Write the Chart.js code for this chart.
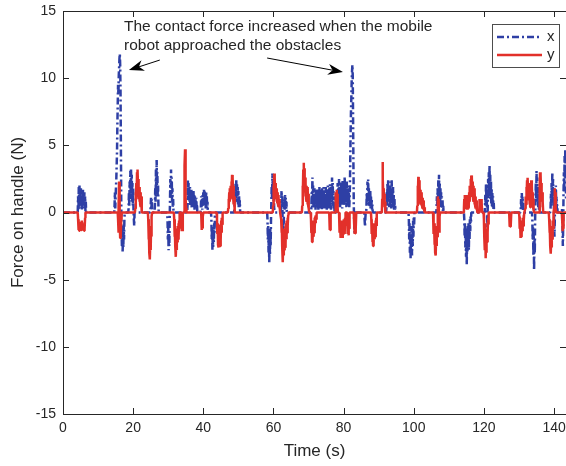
<!DOCTYPE html>
<html>
<head>
<meta charset="utf-8">
<script src="https://cdn.jsdelivr.net/npm/chart.js@4.4.1/dist/chart.umd.min.js"></script>
<style>
  html, body { margin: 0; padding: 0; background: #fff; }
  canvas { display: block; }
</style>
</head>
<body>
<canvas id="forceChart" width="566" height="466"></canvas>
<script>
// Handle force while the mobile robot is guided (x / y components)

const seriesNames = ['x', 'y'];
const xTicks = [0, 20, 40, 60, 80, 100, 120, 140];
const yTicks = [-15, -10, -5, 0, 5, 10, 15];

// [time (s), force (N)]
const forceX = [
  [0,0],[4.2,0],[4.3,1.2],[4.4,0.2],[4.5,1.9],[4.6,0.4],[4.7,2.0],[4.8,0.6],[4.9,1.7],[5.0,0.3],[5.1,1.8],[5.2,0.5],[5.3,1.6],[5.4,0.2],[5.5,1.5],[5.6,0.6],[5.7,1.7],[5.8,0.3],[5.9,1.4],[6.0,0.5],[6.1,1.5],[6.2,0.2],[6.3,1.2],[6.4,0.1],[6.5,0.8],[6.6,0],
  [14.6,0],[14.7,0.5],[14.8,1.5],[14.9,0.3],[15.0,1.2],[15.2,2.5],[15.4,4.5],[15.5,6.5],[15.6,8.0],[15.7,9.5],[15.8,8.8],[15.9,10.2],[16.0,10.8],[16.1,11.5],[16.2,11.8],[16.3,11.0],[16.4,9.0],[16.5,5.0],[16.6,1.0],[16.7,-1.5],[16.8,-2.5],[16.9,-1.2],[17.0,-2.9],[17.1,-1.8],[17.2,-2.6],[17.3,-1.0],[17.4,-2.0],[17.5,-0.5],[17.6,0],
  [18.6,0],[18.7,0.3],[18.8,1.5],[18.9,0.5],[19.0,2.3],[19.1,1.0],[19.2,3.1],[19.3,1.5],[19.4,3.2],[19.5,1.2],[19.6,2.8],[19.7,0.8],[19.8,2.2],[19.9,0.5],[20.0,1.8],[20.1,0.2],[20.2,-0.5],[20.3,-1.0],[20.4,0],
  [24.9,0],[25.0,0.5],[25.1,1.1],[25.2,0.3],[25.3,1.0],[25.4,0.2],[25.5,0],
  [26.1,0],[26.2,0.5],[26.3,1.8],[26.4,0.8],[26.5,3.2],[26.6,1.5],[26.7,3.9],[26.8,2.0],[26.9,3.0],[27.0,1.2],[27.1,2.0],[27.2,0.5],[27.3,0],
  [29.7,0],[29.8,-0.5],[29.9,-2.0],[30.0,-1.0],[30.1,-2.8],[30.2,-1.5],[30.3,-2.5],[30.4,-0.8],[30.5,0.8],[30.6,2.5],[30.7,1.2],[30.8,3.2],[30.9,1.5],[31.0,2.6],[31.1,0.8],[31.2,1.8],[31.3,0.4],[31.4,1.0],[31.5,0],
  [35.4,0],[35.5,0.5],[35.6,2.4],[35.7,1.0],[35.8,2.2],[35.9,0.6],[36.0,1.8],[36.1,0.8],[36.2,1.9],[36.3,0.5],[36.4,1.6],[36.5,0.9],[36.6,1.7],[36.7,0.3],[36.8,1.5],[36.9,0.6],[37.0,1.4],[37.1,0.4],[37.2,1.6],[37.3,0.7],[37.4,1.3],[37.5,0.2],[37.6,1.2],[37.7,0.5],[37.8,1.0],[37.9,0.3],[38.0,1.1],[38.1,0.2],[38.2,0.6],[38.3,0],
  [39.2,0],[39.3,0.3],[39.4,1.2],[39.5,0.4],[39.6,1.0],[39.7,0.2],[39.8,1.3],[39.9,0.5],[40.0,1.5],[40.1,0.6],[40.2,1.7],[40.3,0.8],[40.4,1.6],[40.5,0.5],[40.6,1.4],[40.7,0.3],[40.8,1.6],[40.9,0.6],[41.0,1.2],[41.1,0.3],[41.2,0.8],[41.3,0],
  [42.2,0],[42.3,-0.5],[42.4,-2.0],[42.5,-1.0],[42.6,-2.8],[42.7,-1.5],[42.8,-2.6],[42.9,-1.2],[43.0,-2.2],[43.1,-0.8],[43.2,-1.5],[43.3,-0.3],[43.4,0],
  [48.8,0],[48.9,0.5],[49.0,1.6],[49.1,0.7],[49.2,2.2],[49.3,1.0],[49.4,2.4],[49.5,1.2],[49.6,2.1],[49.7,0.8],[49.8,1.9],[49.9,0.6],[50.0,1.6],[50.1,0.4],[50.2,1.2],[50.3,0.3],[50.4,0.9],[50.5,0.1],[50.6,0],
  [58.2,0],[58.3,-0.5],[58.4,-2.0],[58.5,-1.0],[58.6,-3.0],[58.7,-1.5],[58.8,-3.8],[58.9,-2.0],[59.0,-3.2],[59.1,-1.2],[59.2,-2.5],[59.3,-0.5],[59.4,0.8],[59.5,2.0],[59.6,1.0],[59.7,2.9],[59.8,1.5],[59.9,2.4],[60.0,0.8],[60.1,1.5],[60.2,0.3],[60.3,0],
  [62.1,0],[62.2,0.4],[62.3,1.6],[62.4,0.5],[62.5,1.2],[62.6,-0.5],[62.7,-1.6],[62.8,-0.8],[62.9,-1.2],[63.0,0.3],[63.1,1.0],[63.2,0.2],[63.3,1.3],[63.4,0.4],[63.5,1.1],[63.6,0.2],[63.7,0.8],[63.8,0],
  [70.7,0],[70.8,0.3],[70.9,1.5],[71.0,0.4],[71.1,2.6],[71.2,0.8],[71.3,2.0],[71.4,0.5],[71.5,1.6],[71.6,0.3],[71.7,1.8],[71.8,0.6],[71.9,1.4],[72.0,0.2],[72.1,1.7],[72.2,0.5],[72.3,1.5],[72.4,0.3],[72.5,1.8],[72.6,0.7],[72.7,1.3],[72.8,0.2],[72.9,1.6],[73.0,0.4],[73.1,1.9],[73.2,0.6],[73.3,1.5],[73.4,0.3],[73.5,1.7],[73.6,0.5],[73.7,1.2],[73.8,0.2],[73.9,1.8],[74.0,0.6],[74.1,1.5],[74.2,0.3],[74.3,1.9],[74.4,0.7],[74.5,1.4],[74.6,0.2],[74.7,1.6],[74.8,0.5],[74.9,1.9],[75.0,0.4],[75.1,1.3],[75.2,0.2],[75.3,1.7],[75.4,0.6],[75.5,2.0],[75.6,0.5],[75.7,1.5],[75.8,0.3],[75.9,1.8],[76.0,0.7],[76.1,2.1],[76.2,0.4],[76.3,1.4],[76.4,0.2],[76.5,1.9],[76.6,0.8],[76.7,2.6],[76.8,1.0],[76.9,2.2],[77.0,0.5],[77.1,1.6],[77.2,0.3],[77.3,1.2],[77.4,0.1],[77.5,0.6],[77.6,0],
  [77.9,0],[78.0,0.3],[78.1,1.5],[78.2,0.4],[78.3,2.2],[78.4,0.8],[78.5,1.8],[78.6,0.5],[78.7,2.5],[78.8,1.0],[78.9,2.0],[79.0,0.4],[79.1,1.6],[79.2,0.6],[79.3,2.3],[79.4,0.9],[79.5,1.7],[79.6,0.3],[79.7,2.4],[79.8,1.1],[79.9,2.0],[80.0,0.5],[80.1,1.8],[80.2,0.7],[80.3,2.65],[80.4,1.0],[80.5,2.2],[80.6,0.6],[80.7,1.9],[80.8,0.4],[80.9,2.3],[81.0,0.8],[81.1,1.8],[81.2,0.5],[81.3,2.0],[81.4,0.6],[81.5,1.5],[81.6,0.3],[81.7,1.0],
  [81.8,2.0],[81.9,4.0],[82.0,6.0],[82.1,7.5],[82.2,8.5],[82.3,9.8],[82.4,10.5],[82.5,11.0],[82.6,10.2],[82.7,7.0],[82.8,3.5],[82.9,0.5],[83.0,-0.5],[83.1,-1.5],[83.2,-0.6],[83.3,0],
  [85.9,0],[86.0,-0.6],[86.1,-1.05],[86.2,-0.4],[86.3,0],
  [86.4,0],[86.5,0.3],[86.6,1.5],[86.7,0.6],[86.8,2.3],[86.9,1.0],[87.0,2.46],[87.1,0.8],[87.2,1.8],[87.3,0.5],[87.4,1.4],[87.5,0.4],[87.6,1.6],[87.7,0.3],[87.8,1.2],[87.9,0.2],[88.0,1.0],[88.1,0.2],[88.2,0.6],[88.3,0],
  [92.1,0],[92.2,0.3],[92.3,1.5],[92.4,0.5],[92.5,2.2],[92.6,0.8],[92.7,2.46],[92.8,1.0],[92.9,2.0],[93.0,0.4],[93.1,1.6],[93.2,0.6],[93.3,2.3],[93.4,0.9],[93.5,1.8],[93.6,0.3],[93.7,2.4],[93.8,0.8],[93.9,1.5],[94.0,0.4],[94.1,1.9],[94.2,0.5],[94.3,1.3],[94.4,0.2],[94.5,1.0],[94.6,0.1],[94.7,0.5],[94.8,0],
  [98.5,0],[98.6,-0.5],[98.7,-2.0],[98.8,-0.8],[98.9,-3.0],[99.0,-1.5],[99.1,-3.4],[99.2,-1.8],[99.3,-2.8],[99.4,-1.0],[99.5,-3.2],[99.6,-1.2],[99.7,-2.5],[99.8,-0.6],[99.9,-1.8],[100.0,-0.4],[100.1,-1.0],[100.2,0],
  [106.4,0],[106.5,0.3],[106.6,1.2],[106.7,0.5],[106.8,1.8],[106.9,0.8],[107.0,2.4],[107.1,1.0],[107.2,2.8],[107.3,1.2],[107.4,2.2],[107.5,0.6],[107.6,1.8],[107.7,0.4],[107.8,1.5],[107.9,0.6],[108.0,1.2],[108.1,0.3],[108.2,0.9],[108.3,0.1],[108.4,0.5],[108.5,0],
  [114.3,0],[114.4,-0.5],[114.5,-1.8],[114.6,-0.8],[114.7,-2.6],[114.8,-1.2],[114.9,-3.3],[115.0,-1.5],[115.1,-3.9],[115.2,-2.0],[115.3,-3.0],[115.4,-1.0],[115.5,-2.4],[115.6,-0.8],[115.7,-2.8],[115.8,-1.2],[115.9,-2.0],[116.0,-0.5],[116.1,-1.4],[116.2,-0.3],[116.3,-0.8],[116.4,0],
  [120.2,0],[120.3,0.3],[120.4,1.3],[120.5,0.5],[120.6,2.2],[120.7,0.8],[120.8,1.5],[120.9,-0.5],[121.0,-1.2],[121.1,0.6],[121.2,2.5],[121.3,1.0],[121.4,3.0],[121.5,1.4],[121.6,3.5],[121.7,1.8],[121.8,2.8],[121.9,1.0],[122.0,2.4],[122.1,0.6],[122.2,1.8],[122.3,0.4],[122.4,1.5],[122.5,0.3],[122.6,1.2],[122.7,0.2],[122.8,0.7],[122.9,0],
  [130.4,0],[130.5,0.2],[130.6,1.0],[130.7,0.3],[130.8,1.45],[130.9,0.5],[131.0,1.2],[131.1,0.2],[131.2,0.8],[131.3,0],
  [133.7,0],[133.8,-0.5],[133.9,-2.0],[134.0,-1.0],[134.1,-3.2],[134.2,-1.5],[134.3,-4.3],[134.4,-2.0],[134.5,-3.0],[134.6,-0.5],[134.7,1.0],[134.8,2.2],[134.9,0.8],[135.0,3.1],[135.1,1.5],[135.2,2.6],[135.3,0.8],[135.4,2.0],[135.5,0.4],[135.6,1.3],[135.7,0.2],[135.8,0.6],[135.9,0],
  [138.9,0],[139.0,0.3],[139.1,1.4],[139.2,0.5],[139.3,2.2],[139.4,0.8],[139.5,3.0],[139.6,1.2],[139.7,2.5],[139.8,0.6],[139.9,1.8],[140.0,-0.5],[140.1,-1.8],[140.2,-0.6],[140.3,1.5],[140.4,0.4],[140.5,2.0],[140.6,0.6],[140.7,1.2],[140.8,0.2],[140.9,0.6],[141.0,0],
  [142.2,0],[142.3,0.3],[142.4,-1.0],[142.5,-2.5],[142.6,-1.0],[142.7,1.5],[142.8,3.0],[142.9,1.5],[143.0,4.2],[143.1,2.5],[143.2,4.7],[143.3,3.0],[143.4,1.0]
];

const forceY = [
  [0,0],[4.2,0],[4.3,-0.5],[4.4,-1.3],[4.5,-0.8],[4.6,-1.35],[4.7,-1.0],[4.8,-1.3],[4.9,-0.7],[5.0,-1.35],[5.1,-0.9],[5.2,-1.3],[5.3,-0.6],[5.4,-1.3],[5.5,-1.0],[5.6,-1.35],[5.7,-0.8],[5.8,-1.3],[5.9,-1.1],[6.0,-1.35],[6.1,-0.7],[6.2,-1.2],[6.3,-0.4],[6.4,0],
  [15.6,0],[15.7,-0.5],[15.8,-1.5],[15.9,0.5],[16.0,2.3],[16.1,1.0],[16.2,-0.5],[16.3,-1.9],[16.4,-1.0],[16.5,-1.8],[16.6,-0.5],[16.7,0],
  [20.5,0],[20.6,0.3],[20.7,1.5],[20.8,0.8],[20.9,2.2],[21.0,1.2],[21.1,3.0],[21.2,2.0],[21.3,3.2],[21.4,1.8],[21.5,2.5],[21.6,1.0],[21.7,1.9],[21.8,0.8],[21.9,1.6],[22.0,0.6],[22.1,1.5],[22.2,0.4],[22.3,1.2],[22.4,0.2],[22.5,0],
  [24.2,0],[24.3,-0.5],[24.4,-2.0],[24.5,-1.0],[24.6,-3.0],[24.7,-1.5],[24.8,-3.5],[24.9,-2.0],[25.0,-2.8],[25.1,-1.0],[25.2,-1.8],[25.3,-0.3],[25.4,0],
  [31.6,0],[31.7,-0.5],[31.8,-1.8],[31.9,-0.8],[32.0,-2.5],[32.1,-1.5],[32.2,-3.3],[32.3,-2.0],[32.4,-2.8],[32.5,-1.2],[32.6,-2.2],[32.7,-1.0],[32.8,-2.0],[32.9,-0.8],[33.0,-1.8],[33.1,-0.6],[33.2,-1.2],[33.3,0],
  [33.7,0],[33.8,-0.5],[33.9,-1.4],[34.0,-0.6],[34.1,-1.4],[34.2,0],
  [34.5,0],[34.6,1.5],[34.7,3.5],[34.8,4.7],[34.9,3.0],[35.0,1.0],[35.1,0.3],[35.2,0],
  [39.4,0],[39.5,-0.8],[39.6,-1.3],[39.7,-0.6],[39.8,-1.2],[39.9,-0.3],[40.0,0],
  [43.8,0],[43.9,-0.5],[44.0,-1.6],[44.1,-0.8],[44.2,-2.4],[44.3,-1.2],[44.4,-2.6],[44.5,-1.5],[44.6,-2.2],[44.7,-0.9],[44.8,-2.5],[44.9,-1.4],[45.0,-2.0],[45.1,-0.6],[45.2,-1.5],[45.3,-0.4],[45.4,-0.9],[45.5,0],
  [47.0,0],[47.1,0.3],[47.2,1.0],[47.3,0.5],[47.4,1.5],[47.5,0.8],[47.6,1.8],[47.7,1.0],[47.8,2.0],[47.9,1.2],[48.0,2.3],[48.1,1.5],[48.2,2.8],[48.3,1.8],[48.4,2.6],[48.5,1.2],[48.6,2.0],[48.7,0.6],[48.8,1.2],[48.9,0.2],[49.0,0],
  [59.8,0],[59.9,0.5],[60.0,2.0],[60.1,1.0],[60.2,2.9],[60.3,1.8],[60.4,2.6],[60.5,1.2],[60.6,2.2],[60.7,1.0],[60.8,1.8],[60.9,0.8],[61.0,1.6],[61.1,0.7],[61.2,1.5],[61.3,0.6],[61.4,1.3],[61.5,0.4],[61.6,1.0],[61.7,0.3],[61.8,0.6],[61.9,0],
  [62.1,0],[62.2,-0.5],[62.3,-1.5],[62.4,-0.6],[62.5,-2.6],[62.6,-1.2],[62.7,-3.7],[62.8,-2.0],[62.9,-3.2],[63.0,-1.5],[63.1,-2.8],[63.2,-1.2],[63.3,-2.6],[63.4,-1.0],[63.5,-2.3],[63.6,-0.8],[63.7,-2.0],[63.8,-0.6],[63.9,-1.5],[64.0,-0.4],[64.1,-1.0],[64.2,-0.2],[64.3,0],
  [68.1,0],[68.2,0.5],[68.3,2.0],[68.4,1.0],[68.5,3.2],[68.6,3.7],[68.7,2.5],[68.8,3.3],[68.9,1.5],[69.0,2.6],[69.1,1.2],[69.2,2.2],[69.3,1.0],[69.4,2.0],[69.5,0.8],[69.6,1.9],[69.7,0.6],[69.8,1.7],[69.9,0.5],[70.0,1.4],[70.1,0.3],[70.2,0],
  [70.6,0],[70.7,-0.5],[70.8,-1.5],[70.9,-0.6],[71.0,-2.2],[71.1,-1.0],[71.2,-2.0],[71.3,-0.8],[71.4,-1.8],[71.5,-0.6],[71.6,-1.5],[71.7,-0.4],[71.8,-1.2],[71.9,-0.3],[72.0,-0.8],[72.1,-0.2],[72.2,-0.5],[72.3,0],
  [75.9,0],[76.0,-1.3],[76.1,-0.5],[76.2,-1.3],[76.3,0],
  [77.6,0],[77.7,0.5],[77.8,1.5],[77.9,0.8],[78.0,1.7],[78.1,1.0],[78.2,1.4],[78.3,0.3],[78.4,0],
  [78.7,0],[78.8,-0.5],[78.9,-1.5],[79.0,-0.8],[79.1,-1.9],[79.2,-1.0],[79.3,-1.8],[79.4,-0.6],[79.5,-1.7],[79.6,-1.1],[79.7,-1.9],[79.8,-0.9],[79.9,-1.6],[80.0,-0.5],[80.1,-1.4],[80.2,-0.8],[80.3,-1.6],[80.4,-0.4],[80.5,-1.0],[80.6,0],
  [81.0,0],[81.1,-0.6],[81.2,-1.6],[81.3,-0.8],[81.4,-1.7],[81.5,-0.5],[81.6,-1.2],[81.7,0],
  [82.9,0],[83.0,-0.8],[83.1,-1.6],[83.2,-0.9],[83.3,-1.55],[83.4,-0.5],[83.5,-1.2],[83.6,0],
  [87.8,0],[87.9,-0.5],[88.0,-1.6],[88.1,-0.8],[88.2,-2.2],[88.3,-1.2],[88.4,-2.5],[88.5,-1.5],[88.6,-2.3],[88.7,-1.0],[88.8,-2.0],[88.9,-0.8],[89.0,-1.8],[89.1,-0.6],[89.2,-1.4],[89.3,-0.4],[89.4,-1.0],[89.5,0],
  [90.9,0],[91.0,1.0],[91.1,3.76],[91.2,2.5],[91.3,1.5],[91.4,1.8],[91.5,0.8],[91.6,1.4],[91.7,0.4],[91.8,0.8],[91.9,0],
  [100.9,0],[101.0,0.5],[101.1,2.0],[101.2,1.0],[101.3,2.65],[101.4,1.5],[101.5,2.4],[101.6,1.0],[101.7,2.0],[101.8,0.8],[101.9,1.7],[102.0,0.6],[102.1,1.5],[102.2,0.5],[102.3,1.3],[102.4,0.4],[102.5,1.1],[102.6,0.3],[102.7,0.9],[102.8,0.2],[102.9,0.6],[103.0,0.1],[103.1,0.4],[103.2,0],
  [105.5,0],[105.6,-0.5],[105.7,-1.6],[105.8,-0.8],[105.9,-2.4],[106.0,-1.2],[106.1,-3.0],[106.2,-1.8],[106.3,-3.2],[106.4,-1.5],[106.5,-2.5],[106.6,-1.0],[106.7,-1.8],[106.8,0.2],[106.9,1.2],[107.0,0.4],[107.1,1.0],[107.2,-0.8],[107.3,-1.5],[107.4,-0.3],[107.5,0],
  [114.2,0],[114.3,0.3],[114.4,1.0],[114.5,0.4],[114.6,1.3],[114.7,0.6],[114.8,1.2],[114.9,0.3],[115.0,1.3],[115.1,0.5],[115.2,1.0],[115.3,0.2],[115.4,1.2],[115.5,0.4],[115.6,1.0],[115.7,0.3],[115.8,1.5],[115.9,0.8],[116.0,2.0],[116.1,1.2],[116.2,2.5],[116.3,1.6],[116.4,2.76],[116.5,1.8],[116.6,2.6],[116.7,1.3],[116.8,2.3],[116.9,1.0],[117.0,2.0],[117.1,0.8],[117.2,1.8],[117.3,0.6],[117.4,1.5],[117.5,0.5],[117.6,1.2],[117.7,0.3],[117.8,0.9],[117.9,0.2],[118.0,0.6],[118.1,0],
  [118.6,0],[118.7,0.4],[118.8,1.0],[118.9,0.3],[119.0,0.9],[119.1,0.2],[119.2,1.0],[119.3,0.3],[119.4,0.7],[119.5,0],
  [119.9,0],[120.0,-0.5],[120.1,-1.8],[120.2,-0.8],[120.3,-2.8],[120.4,-1.5],[120.5,-3.4],[120.6,-2.0],[120.7,-3.0],[120.8,-1.2],[120.9,-2.2],[121.0,-0.8],[121.1,-1.5],[121.2,-0.4],[121.3,-0.9],[121.4,0],
  [127.2,0],[127.3,-1.05],[127.4,-0.4],[127.5,-1.05],[127.6,-0.3],[127.7,-0.9],[127.8,0],
  [130.0,0],[130.1,-0.3],[130.2,-1.2],[130.3,-0.6],[130.4,-1.9],[130.5,-1.0],[130.6,-1.8],[130.7,-0.8],[130.8,-1.6],[130.9,-0.6],[131.0,-1.4],[131.1,-0.4],[131.2,-1.0],[131.3,-0.2],[131.4,-0.6],[131.5,0],
  [131.7,0],[131.8,0.3],[131.9,1.2],[132.0,0.6],[132.1,1.9],[132.2,1.0],[132.3,2.4],[132.4,1.4],[132.5,2.58],[132.6,1.5],[132.7,2.2],[132.8,0.9],[132.9,1.8],[133.0,0.6],[133.1,1.4],[133.2,0.4],[133.3,2.0],[133.4,1.0],[133.5,2.4],[133.6,1.2],[133.7,2.0],[133.8,0.6],[133.9,1.5],[134.0,0.4],[134.1,1.0],[134.2,0.2],[134.3,0],
  [135.8,0],[135.9,2.0],[136.0,3.0],[136.1,2.2],[136.2,2.8],[136.3,1.5],[136.4,2.2],[136.5,0.8],[136.6,1.5],[136.7,0.4],[136.8,0.8],[136.9,0],
  [138.5,0],[138.6,-0.5],[138.7,-1.5],[138.8,-0.8],[138.9,-2.5],[139.0,-1.2],[139.1,-3.06],[139.2,-1.8],[139.3,-2.6],[139.4,-1.0],[139.5,-2.0],[139.6,-0.6],[139.7,-1.2],[139.8,-0.2],[139.9,0],
  [140.1,0.5],[140.2,1.8],[140.3,0.8],[140.4,1.5],[140.5,0.3],[140.6,0],
  [142.2,0],[142.3,-0.5],[142.4,-1.4],[142.5,-0.6],[142.6,-1.2],[142.7,0],[143.4,0]
];

const noteLines = ['The contact force increased when the mobile', 'robot approached the obstacles'];

const blue = '#2e3fa5';
const red = '#e2302a';
const ink = '#262626';
const fontFamily = '"Liberation Sans", Arial, Helvetica, sans-serif';

function toPoints(arr) {
    return arr.map(p => ({ x: p[0], y: p[1] }));
}

// box, inward ticks, legend and the arrow annotation
const framePlugin = {
    id: 'frame',
    afterDraw(chart) {
        const { ctx, chartArea: a, scales: { x, y } } = chart;
        ctx.save();
        ctx.strokeStyle = ink;
        ctx.lineWidth = 1;
        ctx.strokeRect(a.left + 0.5, a.top + 0.5, a.right - a.left, a.bottom - a.top);

        ctx.beginPath();
        xTicks.forEach(v => {
            const px = Math.round(x.getPixelForValue(v)) + 0.5;
            ctx.moveTo(px, a.bottom); ctx.lineTo(px, a.bottom - 6);
            ctx.moveTo(px, a.top); ctx.lineTo(px, a.top + 6);
        });
        yTicks.forEach(v => {
            const py = Math.round(y.getPixelForValue(v)) + 0.5;
            ctx.moveTo(a.left, py); ctx.lineTo(a.left + 6, py);
            ctx.moveTo(a.right, py); ctx.lineTo(a.right - 6, py);
        });
        ctx.stroke();

        // legend (inside, top right)
        const lx = 492, ly = 24, lw = 67, lh = 43;
        ctx.fillStyle = '#fff';
        ctx.fillRect(lx + 0.5, ly + 0.5, lw, lh);
        ctx.strokeStyle = '#4d4d4d';
        ctx.strokeRect(lx + 0.5, ly + 0.5, lw, lh);
        chart.data.datasets.forEach((ds, i) => {
            const yy = ly + 13 + i * 18;
            ctx.beginPath();
            ctx.strokeStyle = ds.borderColor;
            ctx.lineWidth = 2.5;
            ctx.setLineDash(ds.borderDash || []);
            ctx.moveTo(lx + 5, yy); ctx.lineTo(lx + 50, yy);
            ctx.stroke();
            ctx.setLineDash([]);
            ctx.fillStyle = ink;
            ctx.font = '15px ' + fontFamily;
            ctx.textBaseline = 'middle';
            ctx.textAlign = 'left';
            ctx.fillText(ds.label, lx + 55, yy);
        });

        // annotation text
        ctx.fillStyle = ink;
        ctx.font = '15.5px ' + fontFamily;
        ctx.textBaseline = 'middle';
        ctx.textAlign = 'left';
        const tx = x.getPixelForValue(17.4);
        ctx.fillText(noteLines[0], tx, y.getPixelForValue(13.8));
        ctx.fillText(noteLines[1], tx, y.getPixelForValue(12.4));

        // arrows: [tail t, tail F, tip t, tip F]
        const arrows = [[27.6, 11.35, 18.8, 10.6], [58.2, 11.5, 79.8, 10.45]];
        arrows.forEach(ar => {
            const x0 = x.getPixelForValue(ar[0]), y0 = y.getPixelForValue(ar[1]);
            const x1 = x.getPixelForValue(ar[2]), y1 = y.getPixelForValue(ar[3]);
            const ang = Math.atan2(y1 - y0, x1 - x0);
            const len = 15, half = 5.5;
            const bx = x1 - len * Math.cos(ang), by = y1 - len * Math.sin(ang);
            const nx = x1 - len * 0.7 * Math.cos(ang), ny = y1 - len * 0.7 * Math.sin(ang);
            ctx.strokeStyle = '#000';
            ctx.lineWidth = 1;
            ctx.beginPath();
            ctx.moveTo(x0, y0); ctx.lineTo(nx, ny);
            ctx.stroke();
            ctx.fillStyle = '#000';
            ctx.beginPath();
            ctx.moveTo(x1, y1);
            ctx.lineTo(bx - half * Math.sin(ang), by + half * Math.cos(ang));
            ctx.lineTo(nx, ny);
            ctx.lineTo(bx + half * Math.sin(ang), by - half * Math.cos(ang));
            ctx.closePath();
            ctx.fill();
        });
        ctx.restore();
    }
};

const ctx = document.getElementById('forceChart').getContext('2d');
new Chart(ctx, {
    type: 'line',
    data: {
        datasets: [
            { label: seriesNames[0], data: toPoints(forceX), borderColor: blue, borderWidth: 2.5,
              borderDash: [7, 3, 2, 3], borderJoinStyle: 'bevel', pointRadius: 0, tension: 0, order: 1 },
            { label: seriesNames[1], data: toPoints(forceY), borderColor: red, borderWidth: 2.5,
              borderJoinStyle: 'bevel', pointRadius: 0, tension: 0, order: 0 }
        ]
    },
    options: {
        responsive: false,
        animation: false,
        devicePixelRatio: 1,
        layout: { padding: { top: 11, right: 0, bottom: 0, left: 0 } },
        plugins: { legend: { display: false }, tooltip: { enabled: false } },
        scales: {
            x: {
                type: 'linear', min: 0, max: 143.4,
                grid: { display: false, drawTicks: false },
                border: { display: false },
                ticks: { color: ink, font: { family: fontFamily, size: 14 }, padding: 6, maxRotation: 0 },
                afterBuildTicks: s => { s.ticks = xTicks.map(v => ({ value: v })); },
                afterFit: s => { s.height = 52; s.paddingLeft = 0; s.paddingRight = 0; },
                title: { display: true, text: 'Time (s)', color: ink,
                         font: { family: fontFamily, size: 17 }, padding: { top: 0, bottom: 4 } }
            },
            y: {
                type: 'linear', min: -15, max: 15,
                grid: { display: false, drawTicks: false },
                border: { display: false },
                ticks: { color: ink, font: { family: fontFamily, size: 14 }, padding: 7 },
                afterBuildTicks: s => { s.ticks = yTicks.map(v => ({ value: v })); },
                afterFit: s => { s.width = 63; s.paddingTop = 0; s.paddingBottom = 0; },
                title: { display: true, text: 'Force on handle (N)', color: ink,
                         font: { family: fontFamily, size: 17 }, padding: { top: 8, bottom: 0 } }
            }
        }
    },
    plugins: [framePlugin]
});
</script>
</body>
</html>
